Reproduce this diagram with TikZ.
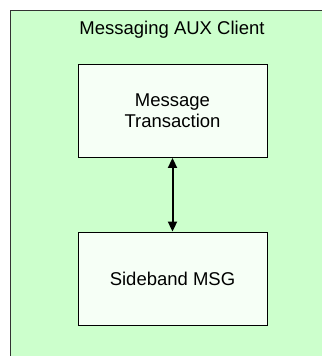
\documentclass[tikz,border=0pt]{standalone}
\usepackage{fontspec}
\setmainfont{Liberation Sans}
\usetikzlibrary{arrows.meta}
\definecolor{outergreen}{HTML}{CCFFCC}
\definecolor{innerfill}{HTML}{F6FFF6}
\tikzset{
  block/.style={draw=black, line width=0.9pt, fill=innerfill, minimum width=189pt, minimum height=93pt, inner sep=0pt, align=center, font=\fontsize{18.5}{21.5}\selectfont},
  title/.style={font=\fontsize{18.5}{21.5}\selectfont, inner sep=0pt},
  link/.style={line width=2pt, {Triangle[length=10pt,width=9pt]}-{Triangle[length=10pt,width=9pt]}, shorten <=0.5pt, shorten >=0.5pt}
}
\begin{document}
\begin{tikzpicture}[x=1pt,y=-1pt]
\useasboundingbox (0,0) rectangle (322,356);
\fill[white] (0,0) rectangle (322,356);
\fill[outergreen] (10.5,10.5) rectangle (322,356);
\draw[line width=1pt, black!80] (10.5,356) -- (10.5,10.5) -- (322,10.5);
\node[title] (ttl) at (172,30) {Messaging AUX Client};
\node[block] (mt) at (172.5,110.5) {Message\\Transaction};
\node[block] (sb) at (172.5,279) {Sideband MSG};
\draw[link] (mt.south) -- (sb.north);
\end{tikzpicture}
\end{document}
